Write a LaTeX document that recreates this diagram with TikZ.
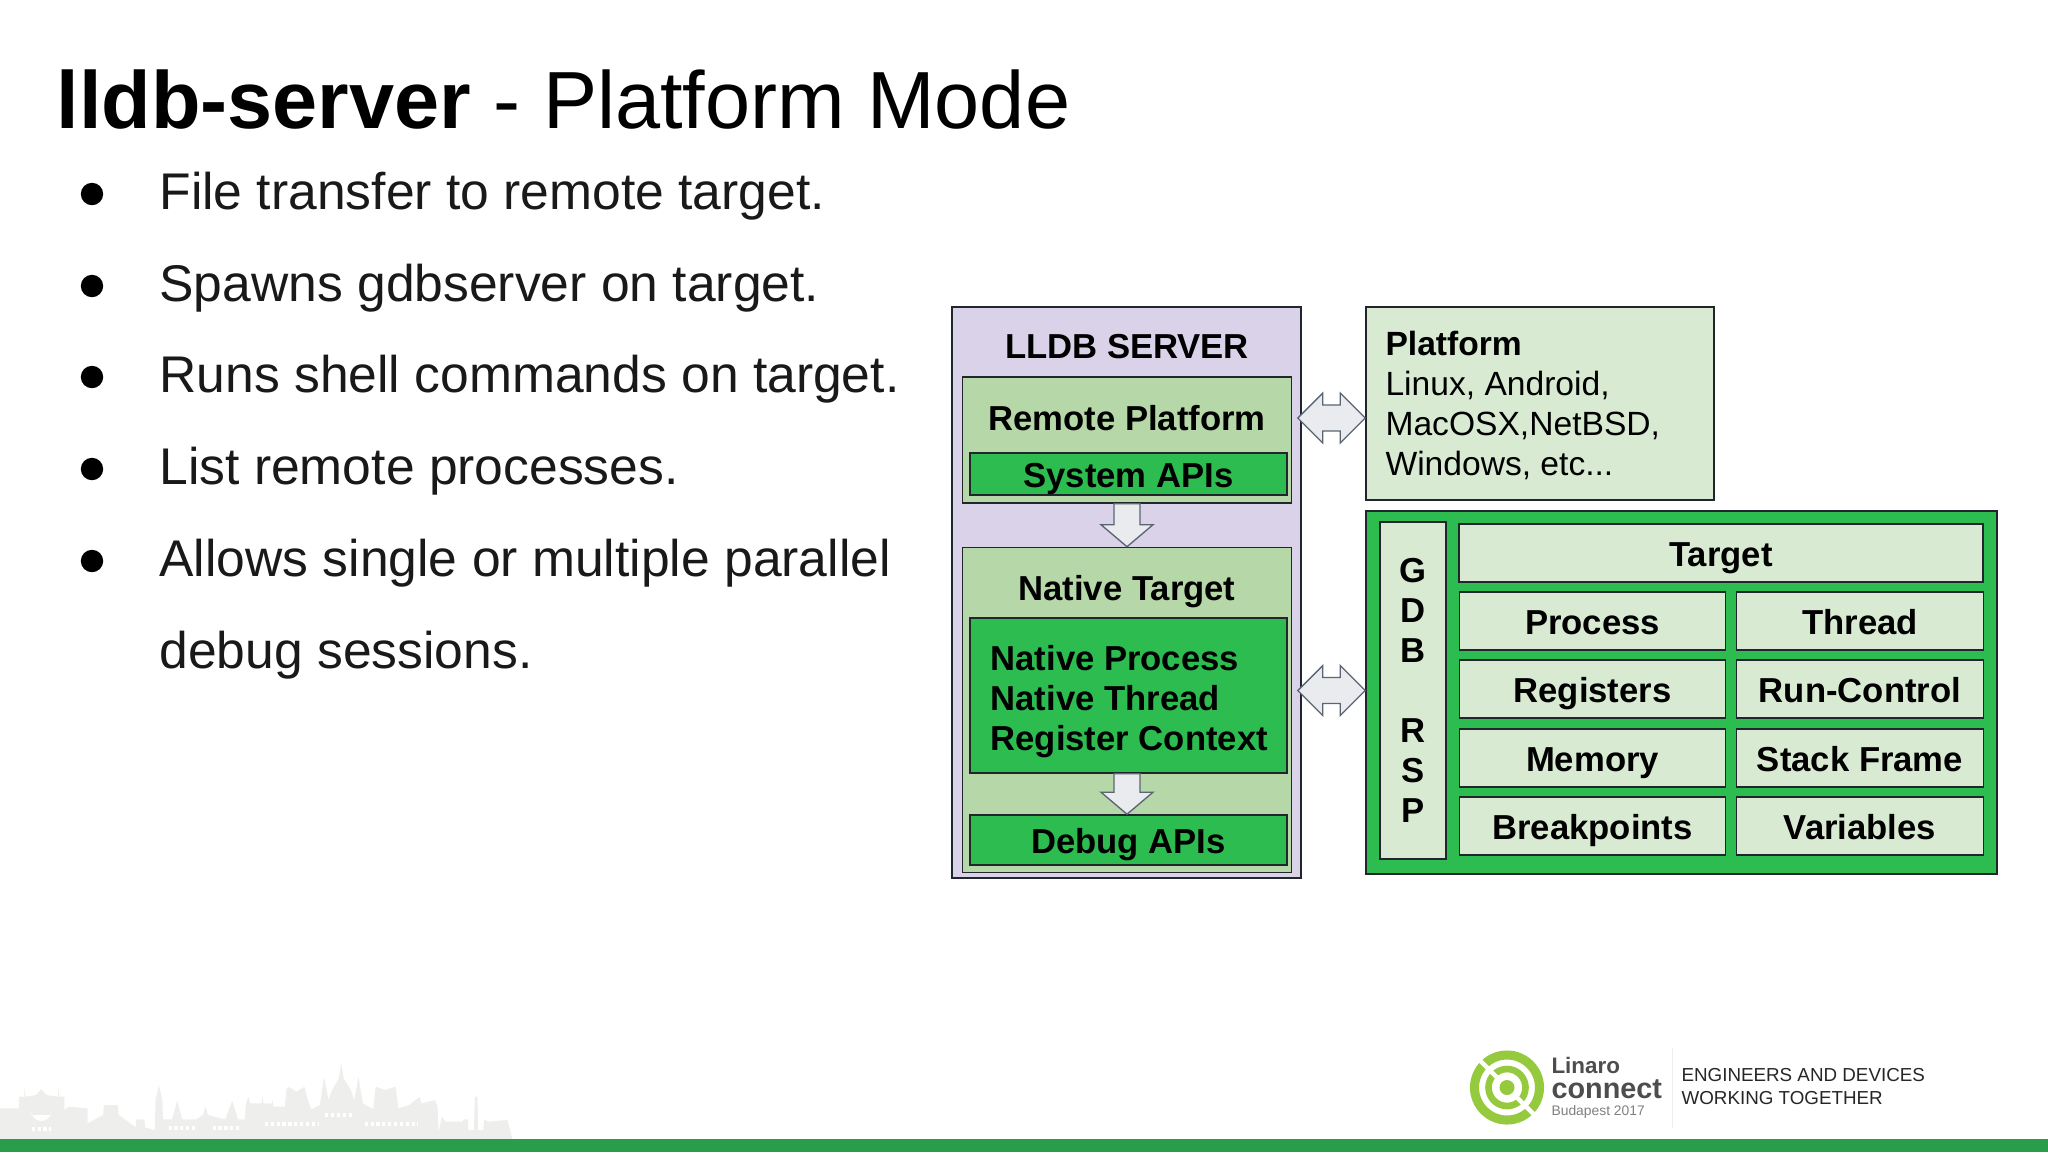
\documentclass[tikz,border=0pt]{standalone}
\usepackage{fontspec}
\setmainfont{Liberation Sans}
\usetikzlibrary{calc}
\definecolor{lavbox}{HTML}{D9D2E9}
\definecolor{midgreen}{HTML}{B6D7A8}
\definecolor{brightgreen}{HTML}{2DBC50}
\definecolor{palegreen}{HTML}{D9EAD3}
\definecolor{boxline}{HTML}{20262B}
\definecolor{arrowfill}{HTML}{E9EBEE}
\definecolor{arrowline}{HTML}{5A6473}
\definecolor{barcolor}{HTML}{2A9D4B}
\definecolor{logogreen}{HTML}{96CA3E}
\definecolor{logogrey}{HTML}{4C4D4F}
\definecolor{skyline}{HTML}{EEEEEC}
\tikzset{
  sz/.style 2 args={minimum width=#1*.375pt,minimum height=#2*.375pt},
  box/.style={draw=boxline,line width=.6pt,inner sep=0pt,font=\fontsize{13}{15}\selectfont\bfseries},
  oneline/.style={text height=10pt,text depth=0pt},
  lblfont/.style={inner sep=0pt,font=\fontsize{13}{15}\selectfont\bfseries},
  bullettxt/.style={anchor=base west,inner sep=0pt,font=\fontsize{19.35}{23}\selectfont,text=black!90},
  logotxt/.style={anchor=base west,inner sep=0pt},
  downblock/.style={draw=arrowline,fill=arrowfill,line width=.5pt,line join=miter,
    to path={-- ($(\tikztostart)+(13,0)$) -- ($(\tikztotarget)+(13,-22)$) -- ($(\tikztotarget)+(26,-22)$)
      -- (\tikztotarget) -- ($(\tikztotarget)+(-26,-22)$) -- ($(\tikztotarget)+(-13,-22)$)
      -- ($(\tikztostart)+(-13,0)$) -- cycle}},
  dualblock/.style={draw=arrowline,fill=arrowfill,line width=.5pt,line join=miter,
    to path={-- ($(\tikztostart)+(25,-25)$) -- ($(\tikztostart)+(25,-13)$) -- ($(\tikztotarget)+(-25,-13)$)
      -- ($(\tikztotarget)+(-25,-25)$) -- (\tikztotarget) -- ($(\tikztotarget)+(-25,25)$)
      -- ($(\tikztotarget)+(-25,13)$) -- ($(\tikztostart)+(25,13)$) -- ($(\tikztostart)+(25,25)$) -- cycle}}
}

\begin{document}
\begin{tikzpicture}[x=.375pt,y=-.375pt]
    \useasboundingbox (0,0) rectangle (2048,1152);

    % draw skyline and footer bar
    \begin{scope}[shift={(0,1040)},x=.129pt,y=-.125pt]
      \fill[skyline] (0,297) -- (0,205) -- (55,205) -- (55,170) -- (70,170) -- (72,140) -- (74,170) -- (105,165)
        -- (120,148) -- (135,165) -- (168,170) -- (170,145) -- (172,170) -- (187,170) -- (187,210) -- (200,200)
        -- (255,205) -- (255,250) -- (300,225) -- (302,195) -- (342,195) -- (345,225) -- (395,262) -- (395,238)
        -- (420,238) -- (422,262) -- (450,270) -- (452,180) -- (462,135) -- (472,180) -- (474,238) -- (500,238)
        -- (515,182) -- (530,238) -- (570,238) -- (590,225) -- (597,200) -- (605,225) -- (655,238) -- (675,182)
        -- (692,238) -- (712,238) -- (715,190) -- (722,170) -- (728,190) -- (760,190) -- (763,170) -- (766,190)
        -- (790,190) -- (792,180) -- (795,200) -- (828,200) -- (832,150) -- (838,140) -- (862,155) -- (885,140)
        -- (895,180) -- (905,208) -- (930,195) -- (942,110) -- (955,180) -- (965,150) -- (985,115) -- (992,70)
        -- (999,115) -- (1020,150) -- (1030,180) -- (1042,110) -- (1055,190) -- (1085,208) -- (1092,140) -- (1120,150)
        -- (1150,140) -- (1158,205) -- (1190,195) -- (1220,170) -- (1225,190) -- (1265,180) -- (1272,200) -- (1275,275)
        -- (1285,230) -- (1295,245) -- (1345,245) -- (1347,238) -- (1360,238) -- (1362,270) -- (1378,270) -- (1380,170)
        -- (1388,170) -- (1390,270) -- (1405,270) -- (1407,238) -- (1420,245) -- (1475,240) -- (1490,297) -- cycle;
      \fill[white] (92,225) -- (92,215) arc (180:0:28) -- (148,225) -- cycle;
      \foreach \xa/\xb/\yy in {92/148/266,490/575/265,618/700/265,770/925/251,945/1030/224,1060/1215/251}
        \draw[white,line width=1.6pt,dash pattern=on 1.2pt off 1pt] (\xa,\yy) -- (\xb,\yy);
    \end{scope}
    \fill[barcolor] (0,1139) rectangle (2048,1152);

    % draw title
    \node (title) [logotxt,font=\fontsize{30.4}{36}\selectfont] at (56,128) {\textbf{lldb-server} - Platform Mode};

    % draw bullets
    \foreach \name/\yy/\txt in {b1/209/File transfer to remote target.,
        b2/301/Spawns gdbserver on target.,
        b3/392/Runs shell commands on target.,
        b4/484/List remote processes.,
        b5/576/Allows single or multiple parallel}
      {
      \node (\name) [bullettxt] at (159,\yy) {\txt};
      \node (\name dot) [circle,fill=black,inner sep=0pt,minimum size=8.4pt] at (92,\yy-15) {};
      }
    \node (b6) [bullettxt] at (159,668) {debug sessions.};

    % draw server stack
    \node (lldb) [box,fill=lavbox,sz={349}{571}] at (1126.5,592.5) {};
    \node (lldbtitle) [lblfont] at (1127,347) {LLDB SERVER};
    \node (remote) [box,fill=midgreen,sz={329}{126}] at (1127,440) {};
    \node (remotelbl) [lblfont] at (1127,418) {Remote Platform};
    \node (sysapi) [box,oneline,fill=brightgreen,sz={317}{42}] at (1128.5,474) {System APIs};
    \node (native) [box,fill=midgreen,sz={329}{325}] at (1127,710) {};
    \node (nativelbl) [lblfont] at (1127,592) {Native Target};
    \node (nativeproc) [box,fill=brightgreen,sz={317}{155}] at (1128.5,695.5) {};
    \node (nativetxt) [lblfont,align=left,anchor=west] at (990,702) {Native Process\\Native Thread\\Register Context};
    \node (debugapi) [box,oneline,fill=brightgreen,sz={317}{50}] at (1128.5,840) {Debug APIs};

    % draw platform box
    \node (platform) [box,fill=palegreen,sz={348}{193}] at (1540,403.5) {};
    \node (platformtxt) [inner sep=0pt,font=\fontsize{12.6}{15}\selectfont,align=left,anchor=west] at (1385,405.5) {\textbf{Platform}\\Linux, Android,\\MacOSX,NetBSD,\\Windows, etc...};

    % draw target box
    \node (green) [box,fill=brightgreen,sz={631}{363}] at (1681.5,692.5) {};
    \node (gdbrsp) [box,fill=palegreen,sz={66}{337},align=center] at (1413,690.5) {G\\D\\B\\~\\R\\S\\P};
    \node (target) [box,oneline,fill=palegreen,sz={524}{58}] at (1721,553) {Target};
    \foreach \name/\yy/\txt in {process/621/Process,registers/689/Registers,memory/758/Memory,breakpoints/826/Breakpoints}
      \node (\name) [box,oneline,fill=palegreen,sz={266}{58}] at (1592.5,\yy) {\txt};
    \foreach \name/\yy/\txt in {thread/621/Thread,runctl/689/Run-Control,frame/758/Stack Frame,variables/826/Variables}
      \node (\name) [box,oneline,fill=palegreen,sz={247}{58}] at (1860,\yy) {\txt};

    % draw block arrows
    \coordinate (srvtip) at ($(lldb.east |- remotelbl)+(-4,0)$);
    \coordinate (rsptip) at ($(lldb.east |- gdbrsp)+(-4,0)$);
    \draw[downblock] (remote.south) to (native.north);
    \draw[downblock] (native.center |- nativeproc.south) to (native.center |- debugapi.north);
    \draw[dualblock] (srvtip) to (platform.west |- remotelbl);
    \draw[dualblock] (rsptip) to (green.west |- gdbrsp);

    % draw logo
    \draw[logogreen,line width=3.4pt] (1507,1087.5) circle (32.5);
    \draw[logogreen,line width=2.5pt] (1507,1087.5) circle (18.5);
    \fill[logogreen] (1507,1087.5) circle (7.5);
    \draw[white,line width=1.6pt] (1478,1058.5) -- (1498,1078.5);
    \draw[white,line width=1.6pt] (1516,1096.5) -- (1536,1116.5);
    \node (linaro) [logotxt,font=\fontsize{8.4}{9}\selectfont\bfseries,text=logogrey] at (1551,1073) {Linaro};
    \node (connect) [logotxt,font=\fontsize{10.8}{12}\selectfont\bfseries,text=logogrey] at (1551,1098) {connect};
    \node (budapest) [logotxt,font=\fontsize{5.2}{6}\selectfont,text=black!50] at (1551,1115) {Budapest 2017};
    \fill[black!7] (1671.5,1048) rectangle (1672.5,1128);
    \node (motto1) [logotxt,font=\fontsize{7.05}{9}\selectfont,text=black!85] at (1681,1081) {ENGINEERS AND DEVICES};
    \node (motto2) [logotxt,font=\fontsize{7.05}{9}\selectfont,text=black!85] at (1681,1104) {WORKING TOGETHER};
\end{tikzpicture}
\end{document}
